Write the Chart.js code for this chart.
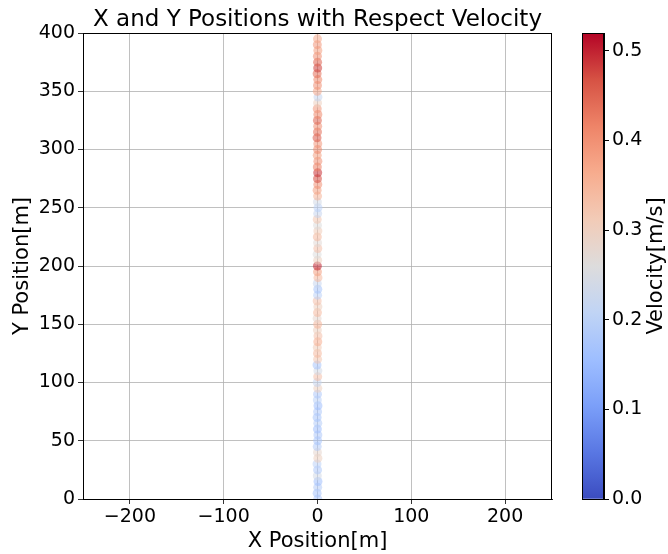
<!DOCTYPE html>
<html>
<head>
<meta charset="utf-8">
<script src="https://cdn.jsdelivr.net/npm/chart.js@4/dist/chart.umd.min.js"></script>
<style>
    html, body { margin: 0; padding: 0; background: #fff; }
    #wrap { position: relative; width: 668px; height: 554px; }
    #mainChart { position: absolute; left: 0; top: 0; }
    #barChart { position: absolute; left: 570px; top: 0; }
</style>
</head>
<body>
<div id="wrap">
    <canvas id="mainChart" width="668" height="554"></canvas>
    <canvas id="barChart" width="98" height="554"></canvas>
</div>
<script>
// positions [m] and velocity [m/s]
const yPos = [0, 5, 10, 15, 20, 25, 30, 35, 40, 45, 50, 55, 60, 65, 70, 75, 80, 85, 90, 95,
    100, 105, 110, 115, 120, 125, 130, 135, 140, 145, 150, 155, 160, 165, 170, 175, 180, 185, 190, 195,
    200, 205, 210, 215, 220, 225, 230, 235, 240, 245, 250, 255, 260, 265, 270, 275, 280, 285, 290, 295,
    300, 305, 310, 315, 320, 325, 330, 335, 340, 345, 350, 355, 360, 365, 370, 375, 380, 385, 390, 395];
const xPos = [0.3, -0.4, 0.2, 0.5, -0.2, 0.1, -0.5, 0.4, 0.0, -0.3, 0.2, 0.4, -0.1, 0.3, -0.4, 0.1, 0.5, -0.2, 0.0, 0.3,
    -0.3, 0.2, 0.4, -0.5, 0.1, 0.0, -0.2, 0.3, 0.5, -0.1, 0.2, -0.4, 0.0, 0.4, -0.3, 0.1, 0.3, -0.2, 0.5, 0.0,
    -0.1, 0.2, -0.4, 0.3, 0.1, -0.2, 0.4, 0.0, -0.3, 0.2, 0.5, -0.1, 0.1, -0.4, 0.3, 0.0, 0.2, -0.2, 0.4, -0.3,
    0.1, 0.3, -0.5, 0.0, 0.2, -0.1, 0.4, -0.3, 0.1, 0.5, -0.2, 0.0, 0.3, -0.4, 0.2, 0.1, -0.1, 0.4, -0.2, 0.0];
const velocity = [0.18, 0.17, 0.19, 0.16, 0.24, 0.18, 0.20, 0.30, 0.28, 0.19, 0.17, 0.18, 0.16, 0.19, 0.17, 0.18, 0.16, 0.20, 0.18, 0.30,
    0.22, 0.33, 0.24, 0.17, 0.32, 0.34, 0.31, 0.36, 0.33, 0.30, 0.35, 0.28, 0.34, 0.30, 0.33, 0.20, 0.17, 0.22, 0.34, 0.38,
    0.50, 0.30, 0.26, 0.33, 0.27, 0.34, 0.31, 0.26, 0.32, 0.22, 0.20, 0.24, 0.35, 0.38, 0.40, 0.47, 0.49, 0.42, 0.40, 0.38,
    0.41, 0.39, 0.46, 0.44, 0.40, 0.45, 0.41, 0.39, 0.30, 0.22, 0.37, 0.40, 0.41, 0.44, 0.48, 0.45, 0.40, 0.38, 0.39, 0.37];

const xTicks = [-200, -100, 0, 100, 200];
const yTicks = [0, 50, 100, 150, 200, 250, 300, 350, 400];
const cbarTicks = [0.0, 0.1, 0.2, 0.3, 0.4, 0.5];
const vMin = 0.0;
const vMax = 0.52;

// matplotlib coolwarm, sampled
const coolwarm = [
    [59, 76, 192], [89, 119, 227], [123, 159, 249], [158, 190, 255], [192, 212, 245],
    [221, 220, 220], [242, 203, 183], [247, 172, 142], [238, 132, 104], [214, 82, 68], [180, 4, 38]
];

function cmap(t, alpha) {
    t = Math.max(0, Math.min(1, t));
    const pos = t * (coolwarm.length - 1);
    const i = Math.min(Math.floor(pos), coolwarm.length - 2);
    const f = pos - i;
    const c = coolwarm[i].map((v, k) => Math.round(v + (coolwarm[i + 1][k] - v) * f));
    return `rgba(${c[0]}, ${c[1]}, ${c[2]}, ${alpha})`;
}

const fontFamily = '"DejaVu Sans", sans-serif';
const gridColor = '#b0b0b0';
const tickFont = { family: fontFamily, size: 19 };
const labelFont = { family: fontFamily, size: 21 };
const minus = (v) => String(v).replace('-', '\u2212');

const framePlugin = {
    id: 'frame',
    afterDraw(chart) {
        const { ctx, chartArea } = chart;
        ctx.save();
        ctx.strokeStyle = '#000';
        ctx.lineWidth = 1;
        ctx.strokeRect(chartArea.left + 0.5, chartArea.top + 0.5,
            chartArea.right - chartArea.left - 1, chartArea.bottom - chartArea.top);
        ctx.restore();
    },
};

// title centred over the axes, like matplotlib
const axesTitlePlugin = {
    id: 'axesTitle',
    afterDraw(chart) {
        const { ctx, chartArea } = chart;
        ctx.save();
        ctx.fillStyle = '#000';
        ctx.font = `23px ${fontFamily}`;
        ctx.textAlign = 'center';
        ctx.textBaseline = 'alphabetic';
        ctx.fillText('X and Y Positions with Respect Velocity', (chartArea.left + chartArea.right) / 2, 26);
        ctx.restore();
    },
};

const points = yPos.map((y, i) => ({ x: xPos[i], y, v: velocity[i] }));

new Chart(document.getElementById('mainChart'), {
    type: 'scatter',
    data: {
        datasets: [{
            data: points,
            pointRadius: 4.5,
            pointBorderWidth: 0,
            backgroundColor: (c) => cmap((c.raw ? c.raw.v : 0) / vMax, 0.55),
            borderColor: 'rgba(0,0,0,0)',
        }],
    },
    options: {
        responsive: false,
        animation: false,
        layout: { padding: { left: 0, right: 116, top: 33, bottom: 0 } },
        plugins: {
            legend: { display: false },
            tooltip: { enabled: false },
        },
        scales: {
            x: {
                type: 'linear',
                min: -250,
                max: 250,
                afterBuildTicks: (scale) => { scale.ticks = xTicks.map((value) => ({ value })); },
                afterFit: (scale) => { scale.height = 55; },
                ticks: {
                    color: '#000',
                    font: tickFont,
                    padding: 2,
                    maxRotation: 0,
                    callback: (v) => minus(v),
                },
                grid: { color: gridColor, lineWidth: 0.8, tickColor: '#000', tickLength: 5 },
                border: { color: '#000', width: 1 },
                title: {
                    display: true,
                    text: 'X Position[m]',
                    color: '#000',
                    font: labelFont,
                    padding: { top: 0, bottom: 0 },
                },
            },
            y: {
                type: 'linear',
                min: 0,
                max: 400,
                afterBuildTicks: (scale) => { scale.ticks = yTicks.map((value) => ({ value })); },
                afterFit: (scale) => { scale.width = 83; },
                ticks: {
                    color: '#000',
                    font: tickFont,
                    padding: 3,
                    callback: (v) => minus(v),
                },
                grid: { color: gridColor, lineWidth: 0.8, tickColor: '#000', tickLength: 5 },
                border: { color: '#000', width: 1 },
                title: {
                    display: true,
                    text: 'Y Position[m]',
                    color: '#000',
                    font: labelFont,
                    padding: { top: 10, bottom: 0 },
                },
            },
        },
    },
    plugins: [framePlugin, axesTitlePlugin],
});

// colorbar as a second chart: one floating bar filled with the colormap
const cbarTitlePlugin = {
    id: 'cbarTitle',
    afterDraw(chart) {
        const { ctx, chartArea } = chart;
        ctx.save();
        ctx.translate(87, (chartArea.top + chartArea.bottom) / 2);
        ctx.rotate(-Math.PI / 2);
        ctx.fillStyle = '#000';
        ctx.font = `21px ${fontFamily}`;
        ctx.textAlign = 'center';
        ctx.textBaseline = 'middle';
        ctx.fillText('Velocity[m/s]', 0, 0);
        ctx.restore();
    },
};

new Chart(document.getElementById('barChart'), {
    type: 'bar',
    data: {
        labels: ['v'],
        datasets: [{
            data: [[vMin, vMax]],
            categoryPercentage: 1,
            barPercentage: 1,
            borderWidth: 0,
            backgroundColor: (c) => {
                const area = c.chart.chartArea;
                if (!area) return '#ccc';
                const g = c.chart.ctx.createLinearGradient(0, area.bottom, 0, area.top);
                for (let i = 0; i <= 20; i++) {
                    g.addColorStop(i / 20, cmap(i / 20, 1));
                }
                return g;
            },
        }],
    },
    options: {
        responsive: false,
        animation: false,
        layout: { padding: { left: 12, right: 0, top: 33, bottom: 55 } },
        plugins: { legend: { display: false }, tooltip: { enabled: false } },
        scales: {
            x: { display: false },
            y: {
                position: 'right',
                min: vMin,
                max: vMax,
                afterBuildTicks: (scale) => { scale.ticks = cbarTicks.map((value) => ({ value })); },
                afterFit: (scale) => { scale.width = 64; },
                ticks: {
                    color: '#000',
                    font: tickFont,
                    padding: 3,
                    callback: (v) => Number(v).toFixed(1),
                },
                grid: { drawOnChartArea: false, tickColor: '#000', tickLength: 5 },
                border: { color: '#000', width: 1 },
            },
        },
    },
    plugins: [framePlugin, cbarTitlePlugin],
});
</script>
</body>
</html>
